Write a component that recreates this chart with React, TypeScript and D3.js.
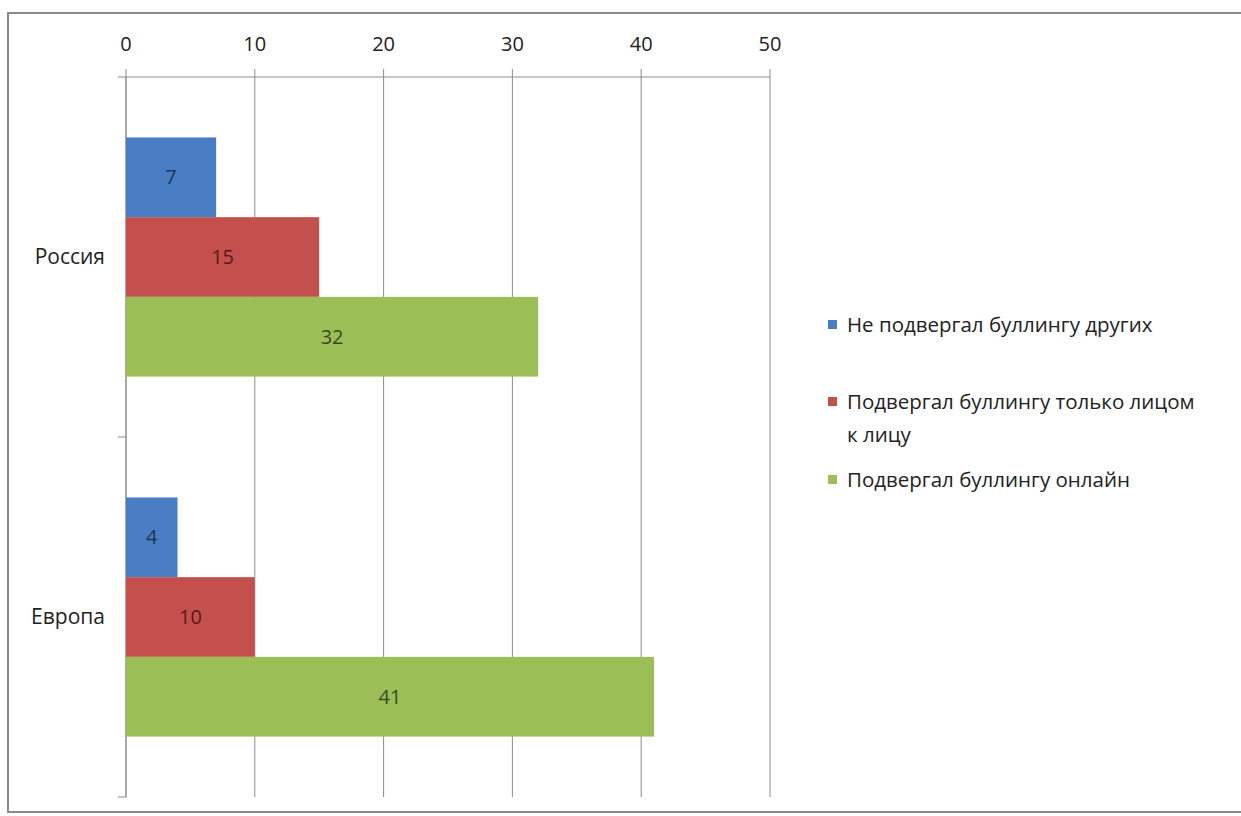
import React from "react";
import * as d3 from "d3";

const categories = ["Россия", "Европа"];
const seriesNames = [
  "Не подвергал буллингу других",
  "Подвергал буллингу только лицом к лицу",
  "Подвергал буллингу онлайн",
];
const russiaValues = [7, 15, 32];
const europeValues = [4, 10, 41];
const xTicks = [0, 10, 20, 30, 40, 50];
const colors = ["#4A7EC4", "#C4504D", "#9BBE57"];
const labelColors = ["#1d3557", "#5a1a18", "#3b4a1c"];
const legendLines = [["Не подвергал буллингу других"], ["Подвергал буллингу только лицом", "к лицу"], ["Подвергал буллингу онлайн"]];

const W = 1241;
const H = 816;
const font = "'Open Sans', 'Noto Sans', sans-serif";

export default function App() {
  const values = [russiaValues, europeValues];
  const x = d3.scaleLinear().domain([0, 50]).range([126, 770]);
  const yCat = d3.scaleBand<string>().domain(categories).range([77, 797]);
  const ySer = d3
    .scaleBand<string>()
    .domain(seriesNames)
    .range([0, yCat.bandwidth()])
    .paddingInner(0)
    .paddingOuter(0.758);

  return (
    <svg
      width={W}
      height={H}
      style={{ position: "absolute", left: 0, top: 0, background: "#fff" }}
      fontFamily={font}
    >
      <rect x={8} y={13} width={1240} height={799} fill="#fff" stroke="#8a8a8a" strokeWidth={2} />
      {/* gridlines */}
      {xTicks.map((t) => (
        <line key={"g" + t} x1={x(t)} x2={x(t)} y1={69} y2={797} stroke="#8c8c8c" strokeWidth={1} />
      ))}
      {/* top axis */}
      <line x1={118} x2={x(50)} y1={77} y2={77} stroke="#8c8c8c" strokeWidth={1} />
      {xTicks.map((t) => (
        <text key={"t" + t} x={x(t)} y={51} textAnchor="middle" fontSize={20} fill="#222">
          {t}
        </text>
      ))}
      {/* category axis */}
      <line x1={x(0)} x2={x(0)} y1={77} y2={797} stroke="#8c8c8c" strokeWidth={1} />
      {[yCat(categories[1])!, 797].map((yy, i) => (
        <line key={"ct" + i} x1={118} x2={126} y1={yy} y2={yy} stroke="#8c8c8c" strokeWidth={1} />
      ))}
      {categories.map((c, ci) => (
        <g key={c}>
          <text
            x={105}
            y={yCat(c)! + yCat.bandwidth() / 2}
            dy="0.35em"
            textAnchor="end"
            fontSize={21}
            fill="#222"
          >
            {c}
          </text>
          {seriesNames.map((s, si) => {
            const v = values[ci][si];
            const y0 = yCat(c)! + ySer(s)!;
            return (
              <g key={s}>
                <rect
                  x={x(0)}
                  y={y0}
                  width={x(v) - x(0)}
                  height={ySer.bandwidth()}
                  fill={colors[si]}
                />
                <text
                  x={(x(0) + x(v)) / 2}
                  y={y0 + ySer.bandwidth() / 2}
                  dy="0.35em"
                  textAnchor="middle"
                  fontSize={20}
                  fill={labelColors[si]}
                >
                  {v}
                </text>
              </g>
            );
          })}
        </g>
      ))}
      {/* legend */}
      {legendLines.map((lines, i) => {
        const yBase = [325, 402, 480][i];
        return (
          <g key={"l" + i}>
            <rect x={828} y={yBase - 5} width={9} height={9} fill={colors[i]} />
            {lines.map((ln, li) => (
              <text key={li} x={847} y={yBase + li * 33} dy="0.35em" fontSize={20.5} fill="#222">
                {ln}
              </text>
            ))}
          </g>
        );
      })}
    </svg>
  );
}
